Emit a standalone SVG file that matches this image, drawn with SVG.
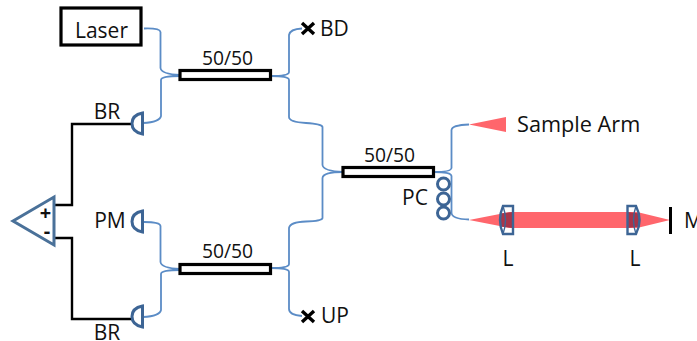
<svg xmlns="http://www.w3.org/2000/svg" width="697" height="341" viewBox="0 0 697 341">
<style>
text{font-family:"Open Sans","Noto Sans",sans-serif;font-size:21px;fill:#111}
.r{font-size:19.300px}
.f{fill:none;stroke:#5b8cc6;stroke-width:1.800}
.w{fill:none;stroke:#000;stroke-width:2.400}
.c{fill:#fff;stroke:#000;stroke-width:3.200}
.d{fill:none;stroke:#3d6595;stroke-width:3}
.x{stroke:#000;stroke-width:3.400;fill:none}
.b{fill:#ff666c}
.o{fill:#a8354a}
.l{fill:none;stroke:#3d6595;stroke-width:2.400}
.i{fill:none;stroke:#3d6595;stroke-width:1.400}
</style>
<g id="connectors">
<path class="f" d="M144 28.500Q160 28 160.500 32V68Q161 74 180 75M180 76Q161 76 161 80V116Q160 122 143 123"/>
<path class="f" d="M271 76Q289 76 289 72V35Q290 29 302 28.500M271 76Q289 76 289 80V117Q289 122 306 123Q322 124 322.500 127V165Q323 171 343 172"/>
<path class="f" d="M144 222Q160 222 160.500 226V262Q161 268 180 269M180 270Q161 270 161 274V310Q160 316 143 317"/>
<path class="f" d="M271 268Q289 268 289 264V228Q290 222 306 221.500Q322 221 322.500 218V178Q323 172 343 172M271 268Q289 268 289 272V309Q289 315 302 316"/>
<path class="f" d="M434 172Q451 172 451.500 168V130Q452 125 469 124.500M434 172Q451 172 451.500 176V213Q452 219 469 219.500"/>
<path class="w" d="M132 124H72V205H54M132 319H72V238H54"/>
</g>
<g id="laser"><rect class="c" x="61" y="8" width="80" height="37"/><text x="101.500" y="38" text-anchor="middle">Laser</text></g>
<g id="coupler1"><rect class="c" x="180" y="70.500" width="90.500" height="9"/><text class="r" x="227.500" y="65" text-anchor="middle">50/50</text></g>
<g id="coupler2"><rect class="c" x="180" y="264.500" width="90.500" height="9"/><text class="r" x="227.500" y="258" text-anchor="middle">50/50</text></g>
<g id="coupler3"><rect class="c" x="343" y="167.500" width="90.500" height="9"/><text class="r" x="389.500" y="162" text-anchor="middle">50/50</text></g>
<g id="bd"><path class="x" d="M302 23L314 34M314 23L302 34"/><text x="320" y="36">BD</text></g>
<g id="up"><path class="x" d="M302 311L314 322M314 311L302 322"/><text x="321" y="323">UP</text></g>
<g id="br1"><path class="d" d="M142.500 113V134Q132 132 132 123.500Q132 115 142.500 113Z"/><text x="107" y="119" text-anchor="middle">BR</text></g>
<g id="pm"><path class="d" d="M142.500 211V232Q132 230 132 221.500Q132 213 142.500 211Z"/><text x="110" y="228" text-anchor="middle">PM</text></g>
<g id="br2"><path class="d" d="M142.500 306V327Q132 325 132 316.500Q132 308 142.500 306Z"/><text x="107" y="340" text-anchor="middle">BR</text></g>
<g id="amp"><path fill="none" stroke="#4a7199" stroke-width="3" d="M13 221L54 197V245Z"/><text x="45.500" y="220" text-anchor="middle" style="font-size:20px;font-weight:bold">+</text><text x="47" y="238" text-anchor="middle" style="font-size:20px;font-weight:bold">-</text></g>
<g id="pc"><g class="d"><circle cx="443.500" cy="184" r="6"/><circle cx="443.500" cy="199" r="6"/><circle cx="443.500" cy="213" r="6"/></g><text x="415" y="205" text-anchor="middle">PC</text></g>
<g id="sample-arm"><path class="b" d="M469 124.500L506 117V132Z"/><text x="517" y="132" style="font-size:21.700px">Sample Arm</text></g>
<g id="beam"><path class="b" d="M469 220L510 212H637L670 220L637 228H510Z"/></g>
<g id="lens1"><path class="o" d="M500 213.500L513 212V228L500 226.500Q499.500 220 500 213.500Z"/><path class="l" d="M513 206H503Q497 220 503 234H513V206Z"/><path class="i" d="M503 206Q508 220 503 234"/><text x="508" y="266" text-anchor="middle">L</text></g>
<g id="lens2"><path class="o" d="M627.500 212L640 213.500Q640.500 220 640 226.500L627.500 228Z"/><path class="l" d="M627.500 206H636Q643 220 636 234H627.500V206Z"/><path class="i" d="M636 206Q631 220 636 234"/><text x="635" y="266" text-anchor="middle">L</text></g>
<g id="mirror"><path d="M670.500 207V234" stroke="#000" stroke-width="3" fill="none"/><text x="684" y="228">M</text></g>
</svg>
